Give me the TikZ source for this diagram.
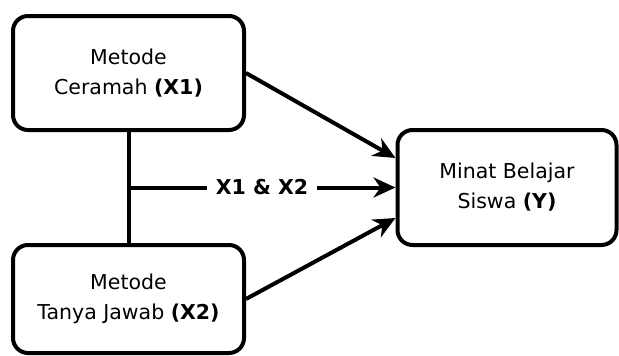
\documentclass[tikz,border=0pt]{standalone}
\usepackage{fontspec}
\setmainfont{DejaVu Sans}
\usetikzlibrary{arrows.meta,calc}
\begin{document}
\begin{tikzpicture}[x=1pt,y=-1pt,
  box/.style={draw=black,line width=4pt,rounded corners=15pt,inner sep=0pt,align=center,
    font=\fontsize{20.5}{30}\selectfont},
  conn/.style={line width=4pt,-{Stealth[length=22pt,width=20pt,inset=7pt]}},
  plain/.style={line width=4pt}]
\useasboundingbox (0,0) rectangle (619,356);
\node[box,minimum width=231pt,minimum height=114pt] (x1) at (128.5,73) {Metode\\Ceramah \textbf{(X1)}};
\node[box,minimum width=231pt,minimum height=108pt] (x2) at (128.5,299) {Metode\\Tanya Jawab \textbf{(X2)}};
\node[box,minimum width=219pt,minimum height=115pt] (y) at (507,187.5) {Minat Belajar\\Siswa \textbf{(Y)}};
\coordinate (j) at (x1.south |- y.west);
\draw[plain] (x1.south) -- (x2.north);
\draw[conn] (j) -- node[fill=white,inner xsep=9pt,font=\fontsize{20.5}{25}\selectfont\bfseries,pos=0.5] (lab) {X1 \& X2} (y.west);
\draw[conn] (x1.east) -- ($(y.west)+(0,-29.5)$);
\draw[conn] (x2.east) -- ($(y.west)+(0,30.5)$);
\end{tikzpicture}
\end{document}
